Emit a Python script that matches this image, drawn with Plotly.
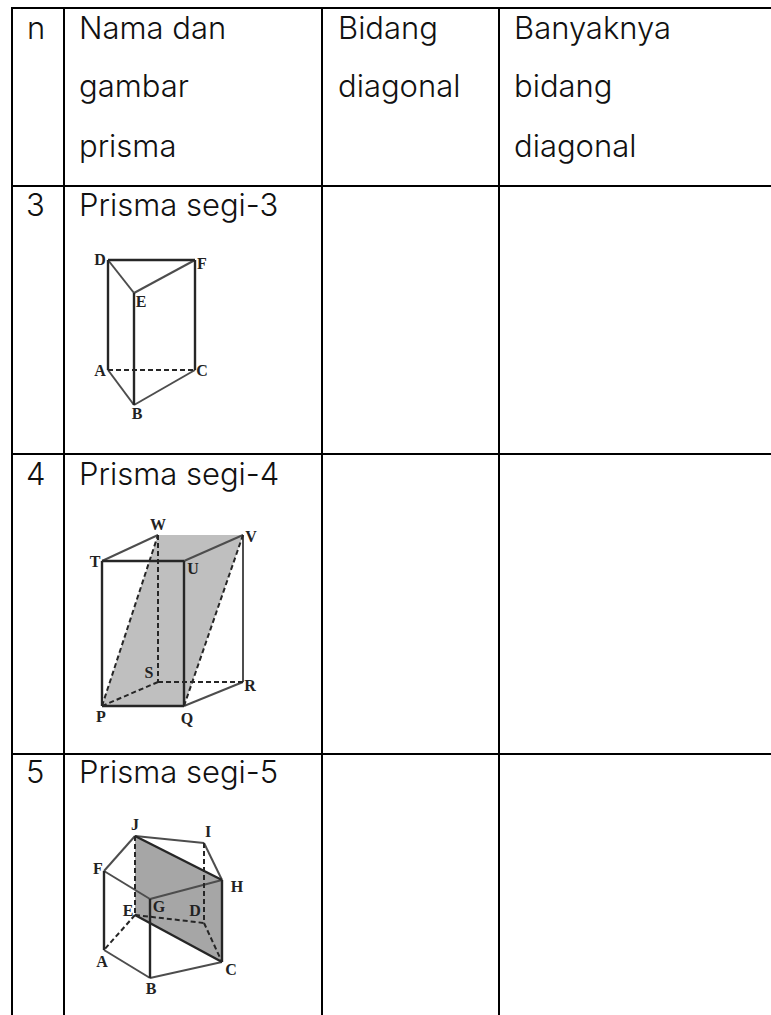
import plotly.graph_objects as go

# table rules, in page pixels
col_x = [12, 64, 322, 499]
row_y = [8, 186, 454, 754]
page_w, page_h = 771, 1015

# cell text: (x, baseline y, text)
cell_text = [
    (27, 41, "n"), (79, 41, "Nama dan"), (79, 99, "gambar"), (79, 159, "prisma"),
    (338, 41, "Bidang"), (338, 99, "diagonal"),
    (514, 41, "Banyaknya"), (514, 99, "bidang"), (514, 159, "diagonal"),
    (26, 218, "3"), (79, 218, "Prisma segi-3"),
    (26, 487, "4"), (79, 487, "Prisma segi-4"),
    (26, 785, "5"), (79, 785, "Prisma segi-5"),
]

# prism segi-3
p3 = {"A": (108, 370), "B": (134, 405), "C": (195, 370), "D": (108, 260), "E": (134, 293), "F": (195, 260)}
p3_thick = ["DF", "DA", "FC", "EB"]
p3_thin = ["DE", "EF", "AB", "BC"]
p3_dash = ["AC"]
p3_labels = {"A": (100, 372), "B": (137, 415), "C": (202, 372), "D": (100, 261), "E": (141, 303), "F": (202, 265)}

# prism segi-4
p4 = {"P": (102, 706), "Q": (184, 706), "R": (243, 682), "S": (158, 682),
      "T": (102, 561), "U": (184, 561), "V": (243, 535), "W": (158, 535)}
p4_plane = "PWVQ"
p4_thick = ["TU", "TP", "UQ", "PQ"]
p4_thin = ["TW", "UV", "VR", "RQ"]
p4_dash = ["PW", "QV", "WS", "SR", "SP"]
p4_labels = {"P": (101, 718), "Q": (187, 720), "R": (250, 687), "S": (149, 674),
             "T": (95, 563), "U": (193, 570), "V": (251, 538), "W": (158, 526)}

# prism segi-5
p5 = {"A": (104, 950), "B": (150, 978), "C": (222, 962), "D": (204, 923), "E": (135, 915),
      "F": (104, 871), "G": (150, 899), "H": (222, 880), "I": (204, 843), "J": (135, 836)}
p5_plane = "JHCE"
p5_thick = ["FA", "GB", "HC", "JH", "EC"]
p5_thin = ["FJ", "JI", "IH", "HG", "GF", "AB", "BC"]
p5_dash = ["JE", "ID", "EA", "ED", "DC"]
p5_labels = {"A": (102, 963), "B": (151, 990), "C": (231, 971), "D": (195, 912), "E": (128, 912),
             "F": (98, 870), "G": (159, 908), "H": (237, 888), "I": (208, 833), "J": (135, 826)}

INK = "#111111"
EDGE = "#262626"
EDGE_THIN = "#4d4d4d"

fig = go.Figure()


def add_segment(p0, p1, color, width, dash="solid"):
    fig.add_trace(go.Scatter(
        x=[p0[0], p1[0]], y=[p0[1], p1[1]], mode="lines",
        line={"color": color, "width": width, "dash": dash},
        hoverinfo="skip", showlegend=False,
    ))


def add_prism(pts, thick, thin, dashed, labels, plane=None, plane_color=None):
    if plane:
        fig.add_trace(go.Scatter(
            x=[pts[k][0] for k in plane], y=[pts[k][1] for k in plane],
            mode="none", fill="toself", fillcolor=plane_color,
            hoverinfo="skip", showlegend=False,
        ))
    for a, b in thin:
        add_segment(pts[a], pts[b], EDGE_THIN, 2)
    for a, b in dashed:
        add_segment(pts[a], pts[b], EDGE, 2, "5px,3px")
    for a, b in thick:
        add_segment(pts[a], pts[b], EDGE, 2.4)
    fig.add_trace(go.Scatter(
        x=[v[0] for v in labels.values()], y=[v[1] for v in labels.values()],
        mode="text", text=list(labels.keys()), textposition="middle center",
        textfont={"family": "Liberation Serif", "size": 16, "color": "#222222", "weight": "bold"},
        hoverinfo="skip", showlegend=False,
    ))


add_prism(p3, p3_thick, p3_thin, p3_dash, p3_labels)
add_prism(p4, p4_thick, p4_thin, p4_dash, p4_labels, p4_plane, "#bfbfbf")
add_prism(p5, p5_thick, p5_thin, p5_dash, p5_labels, p5_plane, "#a6a6a6")

# table rules go over the drawings
for y in row_y:
    add_segment((col_x[0] - 1, y), (page_w, y), "#000000", 2)
for x in col_x:
    add_segment((x, row_y[0]), (x, page_h), "#000000", 2)

# middle of the text box sits about 0.3 em above the baseline
FONT_SIZE = 31
fig.add_trace(go.Scatter(
    x=[c[0] for c in cell_text], y=[c[1] - 0.3 * FONT_SIZE for c in cell_text],
    mode="text", text=[c[2] for c in cell_text], textposition="middle right",
    textfont={"family": "Inter", "size": FONT_SIZE, "color": INK, "weight": 300},
    hoverinfo="skip", showlegend=False,
))

fig.update_layout(
    width=page_w, height=page_h,
    margin={"l": 0, "r": 0, "t": 0, "b": 0},
    paper_bgcolor="white", plot_bgcolor="white",
    xaxis={"range": [0, page_w], "visible": False, "fixedrange": True},
    yaxis={"range": [page_h, 0], "visible": False, "fixedrange": True},
    showlegend=False,
)

fig.write_html("out.html", config={"displayModeBar": False},
               post_script="document.body.style.margin='0';")
